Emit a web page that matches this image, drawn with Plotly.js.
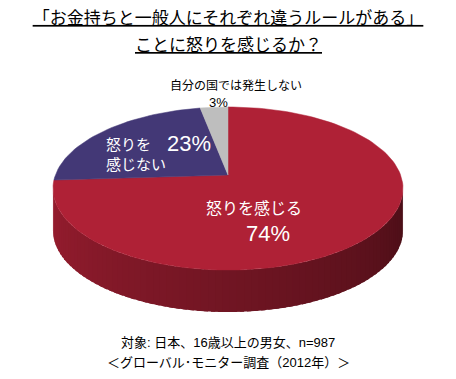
<!DOCTYPE html>
<html>
<head>
<meta charset="utf-8">
<script src="https://cdn.plot.ly/plotly-3.0.1.min.js"></script>
<style>html,body{margin:0;padding:0;background:#fff;}#chart{width:456px;height:379px;}</style>
</head>
<body>
<div id="chart"></div>
<script>
// ---- data ----
const categories = ['怒りを感じる', '怒りを感じない', '自分の国では発生しない'];
const displayLabels = ['怒りを感じる', '怒りを<br>感じない', '自分の国では発生しない'];
const values = [74, 23, 3];
const sliceColors = ['#AF2136', '#433876', '#BEBEBE'];
const titleLines = ['「お金持ちと一般人にそれぞれ違うルールがある」', 'ことに怒りを感じるか？'];
const footLines = ['対象: 日本、16歳以上の男女、n=987', '＜グローバル･モニター調査（2012年）＞'];

// ---- style / geometry ----
const W = 456, H = 379;
const SCALE = 172.6;            // px per unit
const TILT = 0.4594, K = 0.1657, DEPTH = 0.2433;
const JP = 'Noto Sans CJK JP, sans-serif';
const MIX = 'Liberation Sans, Arial, Noto Sans CJK JP, sans-serif';

function hexToRgb(h){h=h.replace('#','');return [parseInt(h.substr(0,2),16),parseInt(h.substr(2,2),16),parseInt(h.substr(4,2),16)];}
function shade(hex,f){const c=hexToRgb(hex);return 'rgb('+c.map(v=>Math.round(v*f)).join(',')+')';}
// perspective projection of the unit disc rim (angle clockwise from top)
function rimX(t){return Math.sin(t)/(1+K*Math.cos(t));}
function rimY(t){return TILT*Math.cos(t)/(1+K*Math.cos(t));}

const total = values.reduce((a,b)=>a+b,0);
const bounds = [0];
values.forEach(v=>bounds.push(bounds[bounds.length-1] + v/total*2*Math.PI));

const traces = [];
// visible side of the disc
const sideStart = Math.acos(-K), sideEnd = 2*Math.PI - Math.acos(-K);
const SEG = Math.PI/90;
for (let i=0;i<values.length;i++){
  const a0 = Math.max(bounds[i], sideStart), a1 = Math.min(bounds[i+1], sideEnd);
  if (a1 <= a0) continue;
  let a = a0;
  while (a < a1 - 1e-9){
    const b = Math.min(a+SEG, a1);
    const bb = Math.min(b+SEG*0.6, a1);
    const xs=[], ys=[];
    const n=3;
    for (let k=0;k<=n;k++){const t=a+(bb-a)*k/n; xs.push(rimX(t)); ys.push(rimY(t));}
    for (let k=n;k>=0;k--){const t=a+(bb-a)*k/n; xs.push(rimX(t)); ys.push(rimY(t)-DEPTH);}
    xs.push(xs[0]); ys.push(ys[0]);
    const mid=(a+b)/2;
    const f = 0.42 + 0.45*((mid - sideStart)/(sideEnd - sideStart));
    const col = shade(sliceColors[i], f);
    traces.push({type:'scatter',mode:'lines',x:xs,y:ys,fill:'toself',fillcolor:col,
      line:{width:0},hoverinfo:'skip',showlegend:false});
    a = b;
  }
}
// top face
for (let i=0;i<values.length;i++){
  const xs=[0], ys=[0];
  const n = Math.max(4, Math.ceil((bounds[i+1]-bounds[i])/(Math.PI/90)));
  for (let k=0;k<=n;k++){const t=bounds[i]+(bounds[i+1]-bounds[i])*k/n; xs.push(rimX(t)); ys.push(rimY(t));}
  xs.push(0); ys.push(0);
  traces.push({type:'scatter',mode:'lines',x:xs,y:ys,fill:'toself',fillcolor:sliceColors[i],
    line:{color:sliceColors[i],width:0.5},name:categories[i],hoverinfo:'name',showlegend:false});
}

const px = x => x/W, py = y => 1 - y/H;
const annotations = [
  {text: '<u>'+titleLines[1]+'</u>', x:px(228), y:py(43), font:{family:JP,size:17,color:'#000'}},
  {text: displayLabels[2], x:px(236), y:py(85), font:{family:JP,size:12,color:'#000'}},
  {text: values[2]+'%', x:px(218), y:py(102), font:{family:MIX,size:13,color:'#000'}},
  {text: displayLabels[1], x:px(104), y:py(153), xanchor:'left', align:'left', font:{family:JP,size:15,color:'#fff'}},
  {text: values[1]+'%', x:px(189), y:py(143), font:{family:MIX,size:22,color:'#fff'}},
  {text: displayLabels[0], x:px(254), y:py(207), font:{family:JP,size:16,color:'#fff'}},
  {text: values[0]+'%', x:px(268), y:py(233), font:{family:MIX,size:22,color:'#fff'}},
  {text: footLines[0], x:px(228), y:py(342), font:{family:MIX,size:13,color:'#000'}},
  {text: footLines[1], x:px(228), y:py(362), font:{family:MIX,size:13,color:'#000'}}
].map(a=>Object.assign({xref:'paper',yref:'paper',xanchor:'center',yanchor:'middle',showarrow:false},a));

const layout = {
  width: W, height: H,
  margin:{l:0,r:0,t:0,b:0},
  paper_bgcolor:'#fff', plot_bgcolor:'#fff',
  title:{text:'<u>'+titleLines[0]+'</u>', x:0.5, xanchor:'center',
    y: py(18), yanchor:'middle', font:{family:JP,size:17,color:'#000'}},
  xaxis:{range:[-228/SCALE, (W-228)/SCALE], visible:false, fixedrange:true},
  yaxis:{range:[(175-H)/SCALE, 175/SCALE], visible:false, fixedrange:true},
  showlegend:false,
  annotations: annotations
};
Plotly.newPlot('chart', traces, layout, {displayModeBar:false, staticPlot:true});
</script>
</body>
</html>
